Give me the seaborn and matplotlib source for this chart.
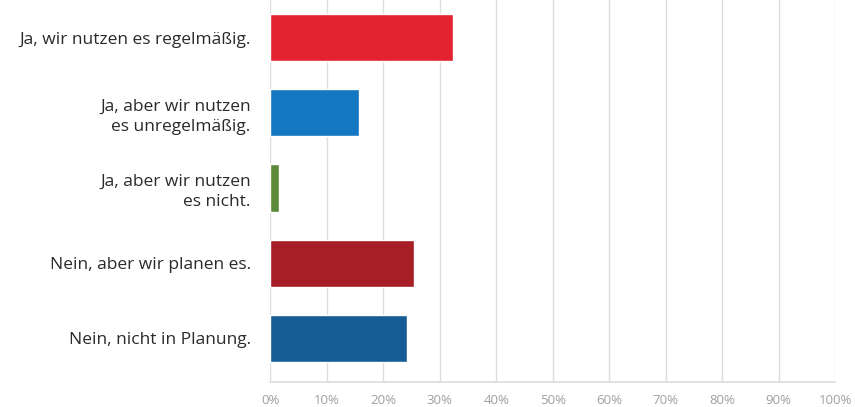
import matplotlib
matplotlib.use("Agg")
import matplotlib.pyplot as plt
import seaborn as sns
import pandas as pd

categories = ["Ja, wir nutzen es regelmäßig.",
              "Ja, aber wir nutzen\nes unregelmäßig.",
              "Ja, aber wir nutzen\nes nicht.",
              "Nein, aber wir planen es.",
              "Nein, nicht in Planung."]
values = [32.4, 15.8, 1.6, 25.5, 24.2]
colors = ["#E3232F", "#1477C2", "#5A8A3A", "#A81E26", "#165C96"]
xticks = [0, 10, 20, 30, 40, 50, 60, 70, 80, 90, 100]

sns.set_theme(style="white")
plt.rcParams['font.family'] = ['Open Sans', 'DejaVu Sans']

df = pd.DataFrame({"cat": categories, "val": values})
fig = plt.figure(figsize=(8.55, 4.07), dpi=100)
ax = fig.add_axes([0.316, 1 - 382 / 407, 0.661, 382 / 407])
sns.barplot(data=df, y="cat", x="val", hue="cat", palette=colors, legend=False,
            width=0.63, saturation=1, ax=ax, zorder=3)
ax.set_xlim(0, 100)
ax.set_ylim(4.58, -0.5)
ax.set_xticks(xticks)
ax.set_xticklabels([f"{t}%" for t in xticks], color="#A0A0A0", fontsize=9.5)
ax.tick_params(axis="y", labelsize=12.5, colors="#2A2A2A", pad=14, length=0)
ax.tick_params(axis="x", pad=9, length=0)
for lbl in ax.get_yticklabels():
    lbl.set_horizontalalignment("right")
    lbl.set_linespacing(1.35)
ax.set_xlabel("")
ax.set_ylabel("")
ax.grid(axis="x", color="#DDDDDD", linewidth=1, zorder=0)
for s in ["top", "right", "left"]:
    ax.spines[s].set_visible(False)
ax.spines["bottom"].set_color("#DDDDDD")
fig.savefig("out.png", dpi=100)
